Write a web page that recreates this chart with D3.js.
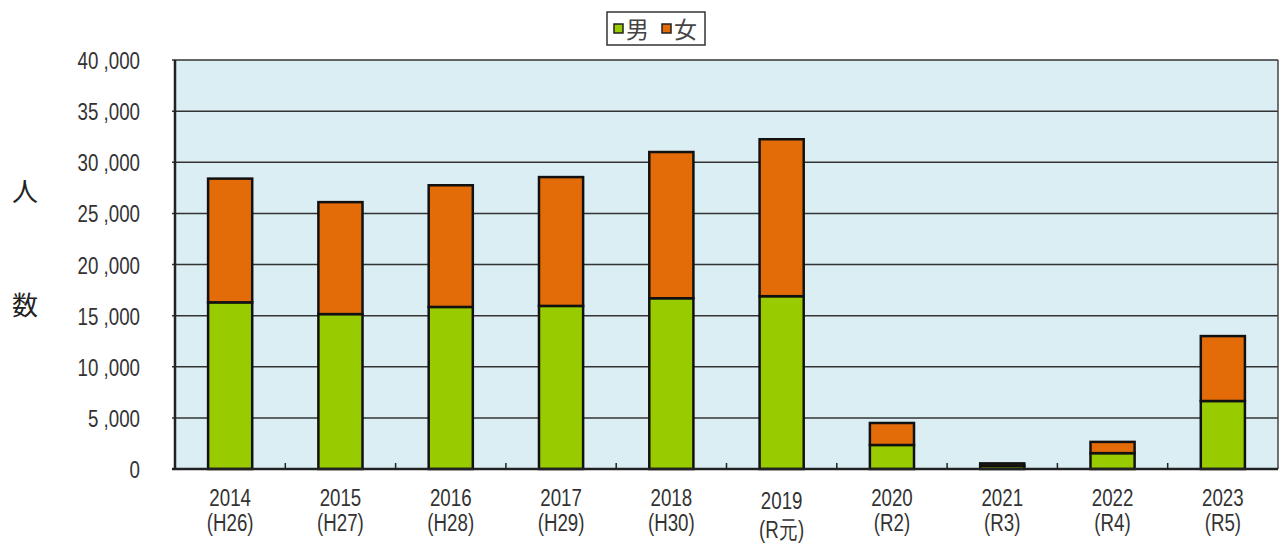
<!DOCTYPE html>
<html>
<head>
<meta charset="utf-8">
<script src="https://cdn.jsdelivr.net/npm/d3@7"></script>
<style>
  body { margin: 0; background: #fff; }
  svg { display: block; }
</style>
</head>
<body>
<script>
// data
const years = ['2014', '2015', '2016', '2017', '2018', '2019', '2020', '2021', '2022', '2023'];
const eras = ['(H26)', '(H27)', '(H28)', '(H29)', '(H30)', '(R元)', '(R2)', '(R3)', '(R4)', '(R5)'];
const male = [16300, 15150, 15850, 15950, 16700, 16900, 2350, 300, 1550, 6650];
const female = [12100, 10950, 11900, 12600, 14300, 15350, 2150, 250, 1100, 6350];
const yTicks = [0, 5000, 10000, 15000, 20000, 25000, 30000, 35000, 40000];
const seriesNames = ['男', '女'];
const colors = ['#99cc00', '#e36c09'];

const W = 1285, H = 546;
const margin = {top: 60, right: 7, bottom: 77, left: 175};
const font = "'Liberation Sans', Arial, sans-serif";
const sx = 0.78; // condensed look of the original labels

const svg = d3.select('body').append('svg').attr('width', W).attr('height', H);

const x = d3.scaleBand().domain(years).range([margin.left, W - margin.right]).paddingInner(0.6).paddingOuter(0.3);
const y = d3.scaleLinear().domain([0, 40000]).range([H - margin.bottom, margin.top]);

// plot background
svg.append('rect')
  .attr('x', margin.left).attr('y', margin.top)
  .attr('width', W - margin.right - margin.left).attr('height', H - margin.bottom - margin.top)
  .attr('fill', '#daeef3');

// gridlines
svg.append('g').selectAll('line').data(yTicks.slice(1)).join('line')
  .attr('x1', margin.left - 3).attr('x2', W - margin.right)
  .attr('y1', d => y(d)).attr('y2', d => y(d))
  .attr('stroke', '#333').attr('stroke-width', 1.5);

// y labels
const fmt = d3.format(',');
svg.append('g').selectAll('text').data(yTicks).join('text')
  .attr('transform', d => `translate(140,${y(d) + 9}) scale(${sx},1)`)
  .attr('text-anchor', 'end')
  .attr('font-family', font).attr('font-size', 24).attr('fill', '#333')
  .text(d => fmt(d).replace(/,/g, ' ,'));

// stacked bars
const rows = years.map((yr, i) => ({year: yr, m: male[i], f: female[i]}));
const stack = d3.stack().keys(['m', 'f'])(rows);

svg.append('g').selectAll('g').data(stack).join('g')
  .attr('fill', (d, i) => colors[i])
  .selectAll('rect').data(d => d).join('rect')
  .attr('x', d => x(d.data.year))
  .attr('width', x.bandwidth())
  .attr('y', d => y(d[1]))
  .attr('height', d => y(d[0]) - y(d[1]))
  .attr('stroke', '#111').attr('stroke-width', 2.5);

// frame
svg.append('line').attr('x1', margin.left).attr('x2', margin.left)
  .attr('y1', margin.top).attr('y2', y(0)).attr('stroke', '#222').attr('stroke-width', 2.5);
svg.append('line').attr('x1', W - margin.right).attr('x2', W - margin.right)
  .attr('y1', margin.top).attr('y2', y(0)).attr('stroke', '#444').attr('stroke-width', 1.5);
svg.append('line').attr('x1', margin.left - 3).attr('x2', W - margin.right)
  .attr('y1', y(0)).attr('y2', y(0)).attr('stroke', '#222').attr('stroke-width', 2.5);

// x ticks at band boundaries
const step = x.step();
const bounds = years.slice(1).map(yr => x(yr) - step * x.paddingInner() / 2);
svg.append('g').selectAll('line').data(bounds).join('line')
  .attr('x1', d => d).attr('x2', d => d)
  .attr('y1', y(0)).attr('y2', y(0) - 6)
  .attr('stroke', '#222').attr('stroke-width', 1.5);

// x labels
const xl = svg.append('g').selectAll('text').data(years).join('text')
  .attr('font-family', font).attr('font-size', 24).attr('fill', '#333')
  .attr('text-anchor', 'middle')
  .attr('transform', (d, i) => `translate(${x(d) + x.bandwidth() / 2},${i === 5 ? 509 : 506}) scale(${sx},1)`);
xl.append('tspan').attr('x', 0).attr('y', 0).text(d => d);
xl.append('tspan').attr('x', 0).attr('y', (d, i) => i === 5 ? 29 : 25).text((d, i) => eras[i]);

// y axis title
svg.append('text').attr('x', 25).attr('y', 201)
  .attr('font-family', "'Noto Sans CJK JP', sans-serif").attr('font-size', 26).attr('fill', '#222')
  .attr('text-anchor', 'middle').text('人');
svg.append('text').attr('x', 25).attr('y', 315)
  .attr('font-family', "'Noto Sans CJK JP', sans-serif").attr('font-size', 26).attr('fill', '#222')
  .attr('text-anchor', 'middle').text('数');

// legend
const lg = svg.append('g').attr('transform', 'translate(607,12)');
lg.append('rect').attr('width', 98).attr('height', 33)
  .attr('fill', '#fff').attr('stroke', '#333').attr('stroke-width', 1.5);
const items = lg.selectAll('g').data(seriesNames).join('g')
  .attr('transform', (d, i) => `translate(${7 + i * 48},0)`);
items.append('rect').attr('y', 12).attr('width', 9).attr('height', 9)
  .attr('fill', (d, i) => colors[i]).attr('stroke', '#222').attr('stroke-width', 1.5);
items.append('text').attr('x', 12).attr('y', 26)
  .attr('font-family', "'Noto Sans CJK JP', sans-serif").attr('font-size', 23).attr('fill', '#444')
  .text(d => d);
</script>
</body>
</html>
